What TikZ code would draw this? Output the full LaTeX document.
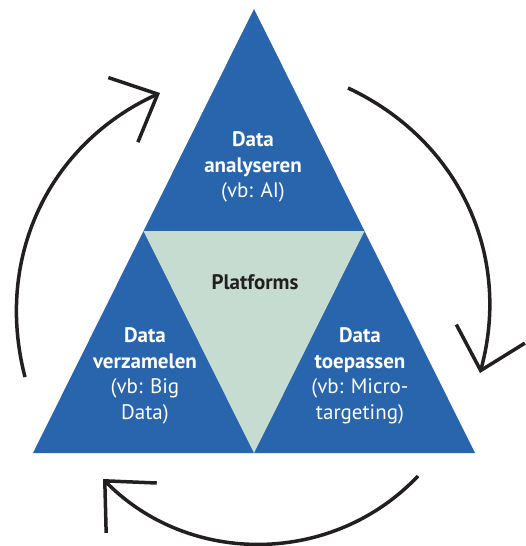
\documentclass[tikz,border=0pt]{standalone}
\usepackage{fontspec}
\setmainfont{PT Sans}
\usetikzlibrary{arrows.meta}
\definecolor{driehoekblauw}{HTML}{2865AD}
\definecolor{platformgroen}{HTML}{C6DCD1}
\definecolor{pijlgrijs}{HTML}{231F20}

\begin{document}
\begin{tikzpicture}[x=1pt,y=1pt,
   stap/.style={text=white,align=center,font=\fontsize{21}{25.5}\selectfont},
   platform/.style={text=pijlgrijs,font=\fontsize{21}{25.5}\selectfont\bfseries},
   kringpijl/.style={draw=pijlgrijs,line width=3.5pt,-{Straight Barb[length=38pt,width=71pt]}}]

  \useasboundingbox (0,0) rectangle (525,-546);

  % grote driehoek en platform in het midden
  \coordinate (top) at (254,-9);
  \coordinate (links) at (33,-453);
  \coordinate (rechts) at (475,-453);
  \coordinate (ml) at (143.5,-231);
  \coordinate (mr) at (364.5,-231);
  \coordinate (mb) at (254,-453);
  \fill[driehoekblauw] (top) -- (links) -- (rechts) -- cycle;
  \fill[platformgroen] (ml) -- (mr) -- (mb) -- cycle;

  \node[stap] (analyseren) at (253,-167) {\textbf{Data}\\\textbf{analyseren}\\(vb: AI)};
  \node[platform] (platforms) at (255,-282) {Platforms};
  \node[stap] (verzamelen) at (145,-376) {\textbf{Data}\\\textbf{verzamelen}\\(vb: Big\\Data)};
  \node[stap] (toepassen) at (360,-376) {\textbf{Data}\\\textbf{toepassen}\\(vb: Micro-\\targeting)};

  % kringloop
  \coordinate (p1) at (25,-377);
  \coordinate (p2) at (160,-93);
  \coordinate (p3) at (348,-88);
  \coordinate (p4) at (480,-373);
  \coordinate (p5) at (418,-476);
  \coordinate (p6) at (103,-479);
  \foreach \from/\to/\buig in {p1/p2/40,p3/p4/40,p5/p6/46}
    \draw[kringpijl] (\from) to[bend left=\buig] (\to);
\end{tikzpicture}
\end{document}
